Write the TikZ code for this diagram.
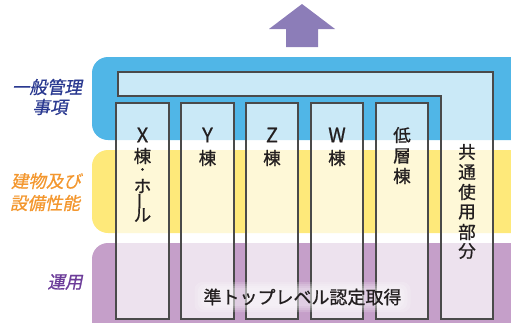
\documentclass[tikz,border=0pt]{standalone}
\usepackage{fontspec}
\newfontfamily\jp[FakeBold=0.8]{Noto Sans CJK JP}
\newfontfamily\jpdot[FakeBold=2]{Noto Sans CJK JP}
\newfontfamily\jpsl[FakeSlant=0.2,FakeBold=0.8]{Noto Sans CJK JP}
\definecolor{bandblue}{HTML}{50B6E7}
\definecolor{bandyellow}{HTML}{FEE97A}
\definecolor{bandpurple}{HTML}{C59FC9}
\definecolor{arrowpurple}{HTML}{8C7DB8}
\definecolor{lblue}{HTML}{2A3990}
\definecolor{lorange}{HTML}{F3972F}
\definecolor{lpurple}{HTML}{6C3C99}
\definecolor{ink}{HTML}{231F20}
\definecolor{edge}{HTML}{4A4A4A}
\tikzset{
  band/.style={rounded corners=16pt},
  colbox/.style={draw=edge, line width=1.1pt, fill=white, fill opacity=0.7},
  ch/.style={inner sep=0pt, font=\jp\fontsize{17.5}{17.5}\selectfont, text=ink},
  lat/.style={inner sep=0pt, font=\jp\fontsize{20}{20}\selectfont, text=ink},
  side/.style={inner sep=0pt, font=\jpsl\fontsize{17.5}{17.5}\selectfont},
}
\begin{document}
\begin{tikzpicture}[x=1pt,y=-1pt]
\useasboundingbox (0,0) rectangle (511,322);
\clip (0,0) rectangle (511,322);
% bands
\fill[bandblue, band] (92,57) rectangle (527,140);
\fill[bandyellow, band] (92,150) rectangle (527,233);
\fill[bandpurple, band] (92,243) rectangle (527,350);
% arrow
\fill[arrowpurple] (302,4) -- (335,29) -- (318,29) -- (318,47) -- (286,47) -- (286,29) -- (269,29) -- cycle;
% L-shaped common part
\path[colbox] (118,72) -- (493,72) -- (493,319) -- (441,319) -- (441,96) -- (118,96) -- cycle;
% columns
\path[colbox] (116,103) rectangle (169,319);
\path[colbox] (181,103) rectangle (234,319);
\path[colbox] (246,103) rectangle (298,319);
\path[colbox] (311,103) rectangle (363,319);
\path[colbox] (376,103) rectangle (428,319);
% column texts
\node[lat] (x1) at (142.5,135) {X};
\node[ch] (x2) at (142.5,156) {棟};
\node[inner sep=0pt, text=ink, font=\jpdot\fontsize{12}{12}\selectfont, text height=6pt, text depth=-3pt] (x3) at (142.5,171) {・};
\node[ch] (x4) at (142.5,186) {ホ};
\node[ch, rotate=90] (x5) at (142.5,201) {ー};
\node[ch] (x6) at (142.5,215) {ル};
\node[lat] (y1) at (207.5,135) {Y};
\node[ch] (y2) at (207.5,158) {棟};
\node[lat] (z1) at (272,135) {Z};
\node[ch] (z2) at (272,158) {棟};
\node[lat] (w1) at (337,135) {W};
\node[ch] (w2) at (337,158) {棟};
\node[ch] (l1) at (402,135) {低};
\node[ch] (l2) at (402,156) {層};
\node[ch] (l3) at (402,176) {棟};
\node[ch] (c1) at (467,152) {共};
\node[ch] (c2) at (467,172) {通};
\node[ch] (c3) at (467,192) {使};
\node[ch] (c4) at (467,212) {用};
\node[ch] (c5) at (467,232) {部};
\node[ch] (c6) at (467,251) {分};
% side labels
\node[side, text=lblue] (s1) at (47,87) {一般管理};
\node[side, text=lblue] (s2) at (50,107) {事項};
\node[side, text=lorange] (s3) at (46,181) {建物及び};
\node[side, text=lorange] (s4) at (45,203) {設備性能};
\node[side, text=lpurple] (s5) at (65,282) {運用};
% bottom label with soft white glow
\foreach \w/\h in {108/15,105/13,102/11,100/9}{
  \fill[white, opacity=0.16, rounded corners=8pt] (302.5-\w,297-\h) rectangle (302.5+\w,297+\h);
}
\node[inner sep=0pt, font=\jp\fontsize{18}{18}\selectfont, text=ink] (bt) at (302.5,297) {準トップレベル認定取得};
\end{tikzpicture}
\end{document}
